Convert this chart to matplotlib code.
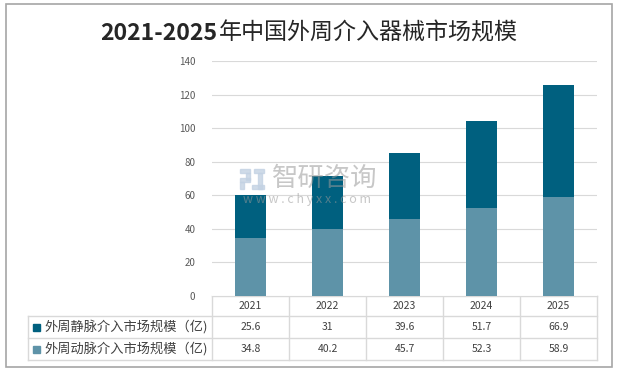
import matplotlib.pyplot as plt
from matplotlib.patches import Rectangle

plt.rcParams['font.family'] = ['Noto Sans CJK SC', 'DejaVu Sans']

title_num = '2021-2025'
title_cn = '年中国外周介入器械市场规模'
years = ['2021', '2022', '2023', '2024', '2025']
vein_name = '外周静脉介入市场规模（亿)'
artery_name = '外周动脉介入市场规模（亿)'
vein = [25.6, 31, 39.6, 51.7, 66.9]
artery = [34.8, 40.2, 45.7, 52.3, 58.9]
y_ticks = [0, 20, 40, 60, 80, 100, 120, 140]

dark = '#00607f'
light = '#5e93a8'
W, H = 617, 373

fig = plt.figure(figsize=(W / 100, H / 100), dpi=100)

# pixel overlay for border, table and title
over = fig.add_axes([0, 0, 1, 1])
over.set_xlim(0, W)
over.set_ylim(H, 0)
over.axis('off')
over.add_patch(Rectangle((6, 4), 606, 363, fill=False, edgecolor='#a6a6a6', lw=1.2))

# title: bold digits, regular chinese
t1 = over.text(100, 33, title_num, ha='left', va='center', fontsize=16.6, fontweight='bold', color='#262626')
over.annotate(title_cn, xy=(1, 0.5), xycoords=t1, xytext=(1, 0), textcoords='offset points',
              ha='left', va='center', fontsize=16.6, color='#262626')

# chart axes (pixel 212..597 wide, y 296..61)
x0, x1 = 212, 597
yb, yt = 296, 61
ax = fig.add_axes([x0 / W, 1 - yb / H, (x1 - x0) / W, (yb - yt) / H])
xs = range(len(years))
ax.bar(xs, artery, width=0.4, color=light, zorder=3)
ax.bar(xs, vein, width=0.4, bottom=artery, color=dark, zorder=3)
ax.set_xlim(-0.5, len(years) - 0.5)
ax.set_ylim(0, 140)
ax.set_yticks(y_ticks)
ax.tick_params(axis='y', length=0, labelsize=7, labelcolor='#595959', pad=12)
ax.set_xticks([])
ax.grid(axis='y', color='#d9d9d9', lw=0.8, zorder=0)
for s in ax.spines.values():
    s.set_visible(False)

# watermark (drawn on top of bars, in pixel coords)
wm = dict(transform=over.transData, zorder=5, clip_on=False)
ax.text(325, 178, '智研咨询', ha='center', va='center', fontsize=19, color='#999999', alpha=0.55, **wm)
ax.text(307, 199, 'w w w . c h y x x . c o m', ha='center', va='center', fontsize=9,
        color='#999999', alpha=0.55, **wm)
for r in [(240, 169, 10, 4), (246, 173, 4, 7), (240, 178, 10, 4), (240, 182, 4, 7),
          (254, 169, 10, 4), (258, 173, 4, 16), (252, 185, 12, 4)]:
    ax.add_patch(Rectangle(r[:2], r[2], r[3], color='#c3d2e3', alpha=0.8, **wm))

# data table
lc = '#d9d9d9'
rows_y = [296, 316, 338, 360]
col_w = (x1 - x0) / len(years)
cols_x = [x0 + i * col_w for i in range(len(years) + 1)]
over.plot([x0, x1], [rows_y[0], rows_y[0]], color=lc, lw=1)
for y in rows_y[1:]:
    over.plot([28, x1], [y, y], color=lc, lw=1)
for x in cols_x:
    over.plot([x, x], [rows_y[0], rows_y[-1]], color=lc, lw=1)
over.plot([28, 28], [rows_y[1], rows_y[-1]], color=lc, lw=1)

tc = '#404040'
for i, yr in enumerate(years):
    cx = cols_x[i] + col_w / 2
    over.text(cx, (rows_y[0] + rows_y[1]) / 2, yr, ha='center', va='center', fontsize=7.5, color=tc)
    over.text(cx, (rows_y[1] + rows_y[2]) / 2, f'{vein[i]:g}', ha='center', va='center', fontsize=7.5, color=tc)
    over.text(cx, (rows_y[2] + rows_y[3]) / 2, f'{artery[i]:g}', ha='center', va='center', fontsize=7.5, color=tc)

for (r0, r1), name, c in [((rows_y[1], rows_y[2]), vein_name, dark), ((rows_y[2], rows_y[3]), artery_name, light)]:
    cy = (r0 + r1) / 2
    over.add_patch(Rectangle((33, cy - 3.5), 7, 7, color=c))
    over.text(44, cy, name, ha='left', va='center', fontsize=9.5, color=tc)

fig.savefig('out.png', dpi=100)
